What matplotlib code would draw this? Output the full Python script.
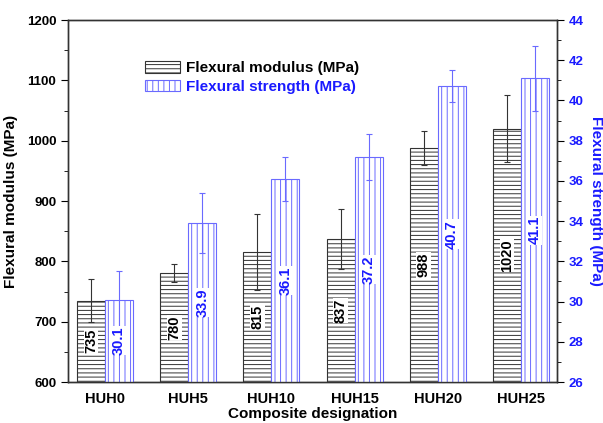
import numpy as np
import matplotlib.pyplot as plt
from matplotlib.patches import Patch
from matplotlib.ticker import MultipleLocator

plt.rcParams['font.family'] = 'Liberation Sans'
plt.rcParams['font.weight'] = 'bold'
plt.rcParams['axes.labelweight'] = 'bold'
plt.rcParams['hatch.linewidth'] = 0.7

samples = ['HUH0', 'HUH5', 'HUH10', 'HUH15', 'HUH20', 'HUH25']
modulus = [735, 780, 815, 837, 988, 1020]
modulus_err = [35, 15, 63, 50, 28, 55]
strength = [30.1, 33.9, 36.1, 37.2, 40.7, 41.1]
strength_err = [1.4, 1.5, 1.1, 1.15, 0.8, 1.6]

blue = '#1a1aff'
hatch_blue = '#6a6aff'
grey = '#333333'

fig = plt.figure(figsize=(6.03, 4.23), dpi=100)
ax = fig.add_axes([0.1128, 0.0969, 0.8109, 0.8558])
ax2 = ax.twinx()

x = np.arange(len(samples))
w = 0.337

ax.bar(x - w / 2, modulus, w, bottom=0, color='white', edgecolor=grey,
       hatch='----', linewidth=0.8)
ax.errorbar(x - w / 2, modulus, yerr=modulus_err, fmt='none', ecolor=grey,
            elinewidth=0.8, capsize=2.5, capthick=0.8)
ax2.bar(x + w / 2, strength, w, color='white', edgecolor=hatch_blue,
        hatch='|||', linewidth=0.8)
ax2.errorbar(x + w / 2, strength, yerr=strength_err, fmt='none', ecolor=hatch_blue,
             elinewidth=0.8, capsize=2.5, capthick=0.8)

ax.set_ylim(600, 1200)
ax2.set_ylim(26, 44)
ax.set_xlim(-0.445, 5.433)

# value labels in the middle of each bar
for xi, v in zip(x, modulus):
    ax.text(xi - w / 2, (600 + v) / 2, f'{v}', rotation=90, ha='center', va='center',
            fontsize=10.5, color='black',
            bbox=dict(facecolor='white', edgecolor='none', pad=0.3))
for xi, v in zip(x, strength):
    ax2.text(xi + w / 2, (26 + v) / 2, f'{v}', rotation=90, ha='center', va='center',
             fontsize=10.5, color=blue,
             bbox=dict(facecolor='white', edgecolor='none', pad=0.3))

ax.set_xticks(x)
ax.set_xticklabels(samples, fontsize=10.5)
ax.tick_params(axis='x', length=0, pad=7)
ax.yaxis.set_major_locator(MultipleLocator(100))
ax.yaxis.set_minor_locator(MultipleLocator(50))
ax.tick_params(axis='y', which='major', direction='out', length=5, labelsize=9.5)
ax.tick_params(axis='y', which='minor', direction='out', length=3)
ax2.yaxis.set_major_locator(MultipleLocator(2))
ax2.yaxis.set_minor_locator(MultipleLocator(1))
ax2.tick_params(axis='y', which='major', direction='out', length=5, labelsize=9.5,
                labelcolor=blue)
ax2.tick_params(axis='y', which='minor', direction='out', length=3)

for a in (ax, ax2):
    for s in a.spines.values():
        s.set_color(grey)
        s.set_linewidth(1.0)

ax.set_xlabel('Composite designation', fontsize=11, labelpad=1)
ax.set_ylabel('Flexural modulus (MPa)', fontsize=11, labelpad=6)
ax2.set_ylabel('Flexural strength (MPa)', fontsize=11, color=blue, rotation=270,
               labelpad=14)

handles = [Patch(facecolor='white', edgecolor=grey, hatch='----', linewidth=0.8),
           Patch(facecolor='white', edgecolor=hatch_blue, hatch='|||', linewidth=0.8)]
leg = ax2.legend(handles, ['Flexural modulus (MPa)', 'Flexural strength (MPa)'],
                 loc='upper left', bbox_to_anchor=(0.13, 0.925), frameon=False,
                 fontsize=11, handlelength=2.3, handleheight=0.8,
                 labelspacing=0.3, handletextpad=0.35)
leg.get_texts()[1].set_color(blue)

fig.savefig('out.png', dpi=100)
